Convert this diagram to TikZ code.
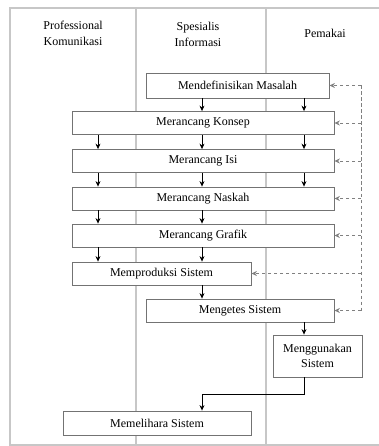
\documentclass[tikz,border=0pt]{standalone}
\usepackage{fontspec}
\setmainfont{Liberation Serif}
\usetikzlibrary{arrows.meta}
\begin{document}
\begin{tikzpicture} [
  x=1pt, y=-1pt,
  font=\fontsize{12}{16}\selectfont,
  lane/.style={draw=black!22, line width=1.4pt},
  box/.style={draw=black!55, fill=white, line width=0.8pt, inner sep=0pt},
  arr/.style={-{Stealth[length=5.5pt,width=5pt]}, line width=0.8pt},
  fb/.style={draw=black!50, dash pattern=on 3.5pt off 2.5pt, line width=0.8pt},
  fbarr/.style={fb, -{Stealth[length=5.5pt,width=5pt]}}]
\useasboundingbox (0,0) rectangle (379,446);
\draw[lane] (379,8) -- (10,8) -- (10,445) -- (379,445);
\draw[lane] (136,8) -- (136,445);
\draw[lane] (266,8) -- (266,445);
\node[align=center] (hprof) at (73,33) {Professional\\Komunikasi};
\node[align=center] (hspes) at (198,34) {Spesialis\\Informasi};
\node (hpem) at (325,33) {Pemakai};
\coordinate (c1) at (98,0);
\coordinate (c2) at (202,0);
\coordinate (c3) at (304,0);
\coordinate (fbx) at (361,0);
\node[box, minimum width=183pt, minimum height=25pt] (mas) at (237.5,85.5) {Mendefinisikan Masalah};
\node[box, minimum width=262pt, minimum height=23pt] (kon) at (203,123) {Merancang Konsep};
\node[box, minimum width=262pt, minimum height=23pt] (isi) at (203,161) {Merancang Isi};
\node[box, minimum width=262pt, minimum height=23pt] (nas) at (203,198.5) {Merancang Naskah};
\node[box, minimum width=262pt, minimum height=23pt] (gra) at (203,235.5) {Merancang Grafik};
\node[box, minimum width=179pt, minimum height=23pt] (pro) at (161.5,273.5) {Memproduksi Sistem};
\node[box, minimum width=188pt, minimum height=23pt] (tes) at (240,310.5) {Mengetes Sistem};
\node[box, minimum width=89pt, minimum height=42pt, align=center, font=\fontsize{12}{15}\selectfont] (gun) at (317.5,356) {Menggunakan\\Sistem};
\node[box, minimum width=188pt, minimum height=24pt] (pel) at (157,423) {Memelihara Sistem};
\foreach \a/\b in {mas/kon, kon/isi, isi/nas, nas/gra, gra/pro, pro/tes}
  \draw[arr] (\a.south -| c2) -- (\b.north -| c2);
\foreach \a/\b in {kon/isi, isi/nas, nas/gra, gra/pro}
  \draw[arr] (\a.south -| c1) -- (\b.north -| c1);
\foreach \a/\b in {mas/kon, kon/isi, isi/nas, tes/gun}
  \draw[arr] (\a.south -| c3) -- (\b.north -| c3);
\coordinate (knee) at (202,394);
\draw[arr, line width=1pt] (gun.south -| c3) |- (knee) -- (pel.north -| knee);
\draw[fb] (mas.east -| fbx) -- (tes.east -| fbx);
\foreach \n in {mas, kon, isi, nas, gra, pro, tes}
  \draw[fbarr] (\n.east -| fbx) -- (\n.east);
\end{tikzpicture}
\end{document}
